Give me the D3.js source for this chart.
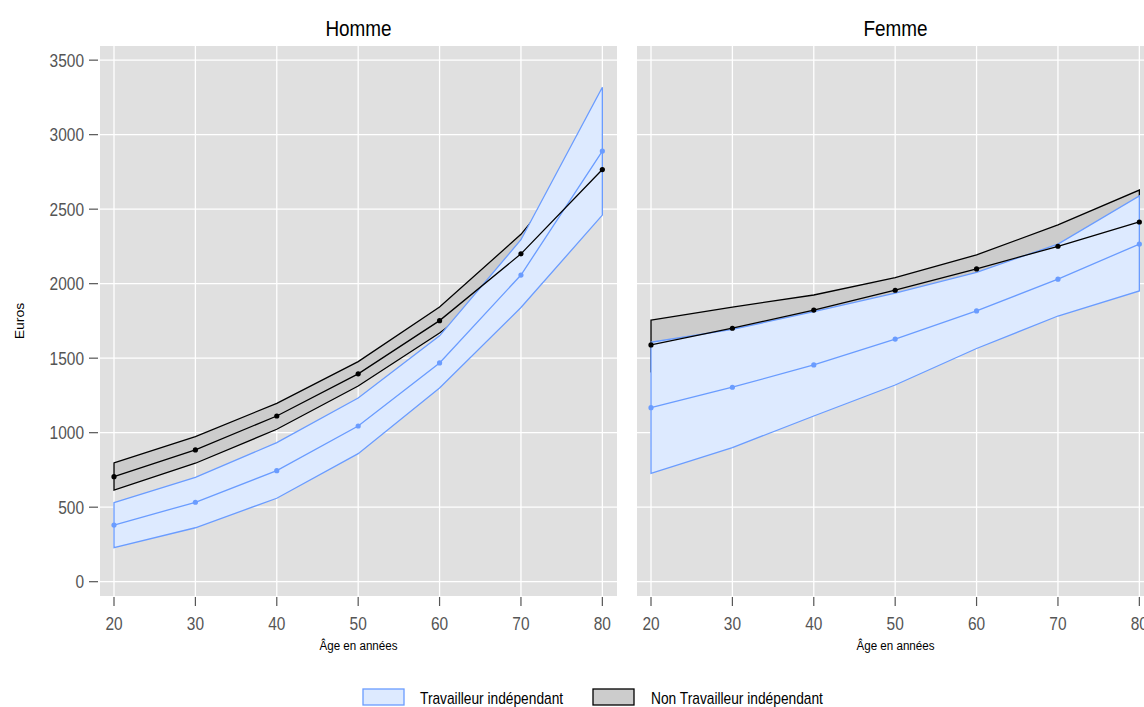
<!DOCTYPE html>
<html>
<head>
<meta charset="utf-8">
<script src="https://cdn.jsdelivr.net/npm/d3@7"></script>
<style>
  html, body { margin: 0; padding: 0; background: #fff; }
  svg { display: block; }
  text { font-family: "Liberation Sans", Arial, sans-serif; }
</style>
</head>
<body>
<svg id="chart" width="1144" height="707"></svg>
<script>
// Ages on the horizontal axis
const ages = [20, 30, 40, 50, 60, 70, 80];
const panels = ["Homme", "Femme"];
const groups = ["Travailleur indépendant", "Non Travailleur indépendant"];
const yTicks = [0, 500, 1000, 1500, 2000, 2500, 3000, 3500];
const xTicks = [20, 30, 40, 50, 60, 70, 80];

// Homme — travailleur indépendant (mean, lower, upper)
const hommeTiMean  = [380, 533, 745, 1045, 1468, 2058, 2890];
const hommeTiLow   = [228, 362, 560, 859, 1300, 1840, 2460];
const hommeTiHigh  = [530, 700, 933, 1233, 1650, 2295, 3318];
// Homme — non travailleur indépendant
const hommeNtiMean = [705, 884, 1112, 1395, 1752, 2200, 2766];
const hommeNtiLow  = [615, 795, 1023, 1313, 1669, 2080, 2540];
const hommeNtiHigh = [797, 973, 1197, 1477, 1843, 2331, 3000];

// Femme — travailleur indépendant
const femmeTiMean  = [1168, 1305, 1455, 1628, 1817, 2030, 2266];
const femmeTiLow   = [727, 900, 1112, 1320, 1565, 1783, 1951];
const femmeTiHigh  = [1607, 1693, 1813, 1937, 2076, 2266, 2589];
// Femme — non travailleur indépendant
const femmeNtiMean = [1589, 1701, 1823, 1956, 2099, 2251, 2414];
const femmeNtiLow  = [1410, 1530, 1650, 1780, 1920, 2060, 2190];
const femmeNtiHigh = [1756, 1843, 1924, 2040, 2193, 2394, 2628];

const panelData = {
  Homme: [
    {mean: hommeNtiMean, low: hommeNtiLow, high: hommeNtiHigh, key: 1},
    {mean: hommeTiMean,  low: hommeTiLow,  high: hommeTiHigh,  key: 0}
  ],
  Femme: [
    {mean: femmeNtiMean, low: femmeNtiLow, high: femmeNtiHigh, key: 1},
    {mean: femmeTiMean,  low: femmeTiLow,  high: femmeTiHigh,  key: 0}
  ]
};

const styles = [
  {stroke: "#6A9CFF", fill: "#DDEAFF", point: "#6A9CFF"},
  {stroke: "#000000", fill: "#CCCCCC", point: "#000000"}
];

const svg = d3.select("#chart");
const SX = 0.86; // horizontal squeeze applied to all labels

function label(sel, x, y, txt, size, opts = {}) {
  const sc = opts.rotate ? `rotate(-90) scale(1,${SX})` : `scale(${SX},1)`;
  const t = sel.append("text")
    .attr("transform", `translate(${x},${y}) ${sc}`)
    .attr("font-size", size)
    .attr("fill", opts.fill || "#000")
    .attr("text-anchor", opts.anchor || "middle")
    .text(txt);
  if (opts.dy) t.attr("dy", opts.dy);
  return t;
}

const plotTop = 46, plotBottom = 596;
const panelW = 517, gap = 20, left0 = 100;

const y = d3.scaleLinear().domain([-96, 3595]).range([plotBottom, plotTop]);

panels.forEach((name, i) => {
  const px = left0 + i * (panelW + gap);
  const x = d3.scaleLinear().domain([18.28, 81.8]).range([px, px + panelW]);
  const g = svg.append("g");

  g.append("rect").attr("x", px).attr("y", plotTop).attr("width", panelW).attr("height", plotBottom - plotTop)
    .attr("fill", "#E0E0E0");

  // grid
  g.selectAll(".gy").data(yTicks).join("line")
    .attr("x1", px).attr("x2", px + panelW)
    .attr("y1", d => y(d)).attr("y2", d => y(d))
    .attr("stroke", "#fff").attr("stroke-width", 1.3);
  g.selectAll(".gx").data(xTicks).join("line")
    .attr("x1", d => x(d)).attr("x2", d => x(d))
    .attr("y1", plotTop).attr("y2", plotBottom)
    .attr("stroke", "#fff").attr("stroke-width", 1.3);

  const series = panelData[name];
  const area = d3.area().x((d, j) => x(ages[j])).y0(d => y(d[0])).y1(d => y(d[1]));
  const line = d3.line().x((d, j) => x(ages[j])).y(d => y(d));

  // bands: non-TI first, TI on top
  series.forEach(s => {
    const st = styles[s.key];
    const pts = ages.map((a, j) => [s.low[j], s.high[j]]);
    g.append("path").attr("d", area(pts))
      .attr("fill", st.fill).attr("stroke", "none");
    const poly = ages.map((a, j) => [x(a), y(s.high[j])])
      .concat(ages.map((a, j) => [x(a), y(s.low[j])]).reverse());
    g.append("path").attr("d", d3.line()(poly) + "Z")
      .attr("fill", "none").attr("stroke", st.stroke).attr("stroke-width", 1.3);
  });

  // mean lines: TI then non-TI on top
  series.slice().reverse().forEach(s => {
    const st = styles[s.key];
    g.append("path").attr("d", line(s.mean))
      .attr("fill", "none").attr("stroke", st.stroke).attr("stroke-width", 1.3);
    g.selectAll(null).data(s.mean).join("circle")
      .attr("cx", (d, j) => x(ages[j])).attr("cy", d => y(d))
      .attr("r", 2.6).attr("fill", st.point);
  });

  // y axis ticks (left panel only)
  if (i === 0) {
    g.selectAll(".ty").data(yTicks).join("line")
      .attr("x1", px - 11).attr("x2", px - 2)
      .attr("y1", d => y(d)).attr("y2", d => y(d))
      .attr("stroke", "#555").attr("stroke-width", 1.2);
    yTicks.forEach(t => label(g, px - 16, y(t), t, 18, {anchor: "end", fill: "#555", dy: "0.36em"}));
  }

  // x axis ticks
  g.selectAll(".tx").data(xTicks).join("line")
    .attr("x1", d => x(d)).attr("x2", d => x(d))
    .attr("y1", plotBottom + 1).attr("y2", plotBottom + 10)
    .attr("stroke", "#555").attr("stroke-width", 1.2);
  xTicks.forEach(t => label(g, x(t), 630, t, 18, {fill: "#555"}));

  // strip title and axis title
  label(g, px + panelW / 2, 36, name, 22);
  label(g, px + panelW / 2, 650, "Âge en années", 13.5);
});

// y axis title
label(svg, 24, 321, "Euros", 14, {rotate: true});

// legend
const legend = svg.append("g");
const legItems = [
  {x: 363, tx: 420, st: styles[0], txt: groups[0]},
  {x: 593, tx: 651, st: styles[1], txt: groups[1]}
];
legItems.forEach(it => {
  legend.append("rect").attr("x", it.x).attr("y", 689).attr("width", 41).attr("height", 16)
    .attr("fill", it.st.fill).attr("stroke", it.st.stroke).attr("stroke-width", 1.3);
  label(legend, it.tx, 704, it.txt, 16, {anchor: "start"});
});
</script>
</body>
</html>
